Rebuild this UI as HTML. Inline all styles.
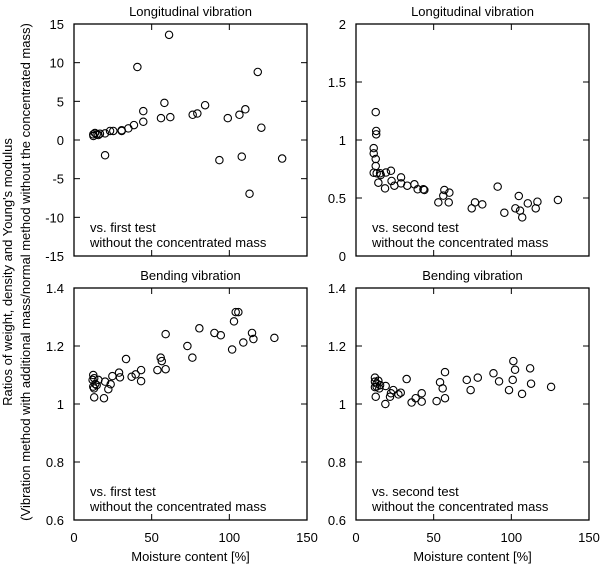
<!DOCTYPE html>
<html><head><meta charset="utf-8"><style>
body{margin:0;background:#fff}
svg{display:block;font-family:"Liberation Sans",sans-serif}
</style></head><body>
<svg id="c" width="600" height="568" viewBox="0 0 600 568">
<text transform="translate(12,272) rotate(-90)" text-anchor="middle" font-size="13">Ratios of weight, density and Young's modulus</text>
<text transform="translate(30,272) rotate(-90)" text-anchor="middle" font-size="13">(Vibration method with additional mass/normal method without the concentrated mass)</text>
</svg>
<script>
const xTicks=[0,50,100,150];
const p1Ticks=[-15,-10,-5,0,5,10,15];
const p2Ticks=[0,0.5,1,1.5,2];
const p3Ticks=[0.6,0.8,1,1.2,1.4];
const p1X=[12.4,12.5,13.5,14.6,15.7,16.7,20,20,23.2,25.3,30.7,30.7,35,38.6,40.8,44.6,44.6,56,58.2,61.2,62,76.4,79.4,84.4,93.6,99,106.5,108,110.3,113,118.3,120.6,134];
const p1Y=[0.73,0.52,0.9,0.73,0.64,0.81,0.86,-1.97,1.17,1.17,1.26,1.17,1.5,1.93,9.44,2.36,3.73,2.83,4.8,13.6,2.96,3.26,3.43,4.5,-2.6,2.83,3.26,-2.15,3.97,-6.95,8.8,1.59,-2.4];
const p2X=[12.7,13,13,11.4,11.4,12.7,12.7,11.4,13.3,15.5,14.4,15.9,19.3,18.7,22.5,22.9,24.7,29,29,33,37.6,39.7,43.4,44,53,56.9,56.2,59.7,60.1,74.5,76.6,81.3,91.2,95.5,102.6,104.8,105.6,107,110.6,115.7,116.8,130];
const p2Y=[1.24,1.078,1.049,0.93,0.885,0.836,0.776,0.718,0.713,0.713,0.632,0.698,0.72,0.583,0.735,0.647,0.606,0.678,0.626,0.606,0.618,0.575,0.575,0.569,0.462,0.569,0.52,0.462,0.546,0.411,0.462,0.445,0.598,0.373,0.411,0.517,0.391,0.333,0.454,0.411,0.468,0.483];
const p3X=[12.4,12,13,12.9,12.4,13.7,14.6,15.7,13,20,19.3,22.1,23.6,24.7,29,29.6,33.5,37.1,39.7,43.2,43.2,53.7,55.8,56.5,59,59,73,76.2,80.7,90.4,94.5,101.8,103,104.1,105.8,109,114.6,115.5,129];
const p3Y=[1.10,1.083,1.089,1.054,1.06,1.069,1.065,1.083,1.023,1.077,1.020,1.051,1.068,1.096,1.108,1.092,1.155,1.094,1.102,1.117,1.079,1.117,1.16,1.148,1.12,1.241,1.2,1.16,1.261,1.245,1.237,1.188,1.285,1.317,1.317,1.212,1.245,1.224,1.228];
const p4X=[12.2,12.2,13.3,13.3,12.2,14.4,15.5,15,12.7,19.1,18.9,21.9,22.5,24,27.3,28.8,32.6,35.8,38.4,42.3,42.3,51.9,54.1,55.8,57.3,57.3,71.3,73.8,78.4,88.5,92.1,98.5,100.9,101.3,102.4,106.9,112.1,112.7,125.6];
const p4Y=[1.091,1.077,1.071,1.06,1.058,1.08,1.065,1.054,1.025,1.062,1.0,1.025,1.037,1.048,1.033,1.039,1.086,1.005,1.02,1.037,1.008,1.01,1.075,1.054,1.02,1.11,1.083,1.048,1.091,1.106,1.078,1.048,1.083,1.148,1.118,1.035,1.123,1.07,1.059];
const NS='http://www.w3.org/2000/svg';
const svg=document.getElementById('c');
function mk(t,a,txt){const e=document.createElementNS(NS,t);for(const k in a)e.setAttribute(k,a[k]);if(txt!==undefined)e.textContent=txt;svg.appendChild(e);return e;}
function panel(id,L,T,W,H,yTicks,ymin,ymax,xs,ys,title,n1,n2,showX){
  const sx=v=>L+v/150*W, sy=v=>T+H-(v-ymin)/(ymax-ymin)*H;
  const r=mk('rect',{x:L,y:T,width:W,height:H,fill:'none',stroke:'#000','stroke-width':1.3});
  
  
  const t=mk('text',{x:L+W/2,y:T-8,'text-anchor':'middle','font-size':13},title);
  
  
  xTicks.forEach(v=>{const x=sx(v);
    mk('line',{x1:x,x2:x,y1:T+H,y2:T+H-6,stroke:'#000'});mk('line',{x1:x,x2:x,y1:T,y2:T+6,stroke:'#000'});
    if(showX){const l=mk('text',{x:x,y:T+H+22,'text-anchor':'middle','font-size':13},String(v));
      
      }
  });
  yTicks.forEach(v=>{const y=sy(v);
    mk('line',{x1:L,x2:L+6,y1:y,y2:y,stroke:'#000'});mk('line',{x1:L+W,x2:L+W-6,y1:y,y2:y,stroke:'#000'});
    const l=mk('text',{x:L-10,y:y+5,'text-anchor':'end','font-size':13},String(v));
    
    
  });
  xs.forEach((v,i)=>{const c=mk('circle',{cx:sx(v),cy:sy(ys[i]),r:3.7,fill:'none',stroke:'#000','stroke-width':1.1});
    
    });
  const a=mk('text',{x:L+16,y:T+H-24,'font-size':13},n1);
  
  
  const b=mk('text',{x:L+16,y:T+H-9,'font-size':13},n2);
  
  
  if(showX){const xt=mk('text',{x:L+W/2,y:T+H+41,'text-anchor':'middle','font-size':13},'Moisture content [%]');
    
    }
}
panel('longitudinal-first',74,24,233,232,p1Ticks,-15,15,p1X,p1Y,'Longitudinal vibration','vs. first test','without the concentrated mass',false);
panel('longitudinal-second',356,24,233,232,p2Ticks,0,2,p2X,p2Y,'Longitudinal vibration','vs. second test','without the concentrated mass',false);
panel('bending-first',74,288,233,232,p3Ticks,0.6,1.4,p3X,p3Y,'Bending vibration','vs. first test','without the concentrated mass',true);
panel('bending-second',356,288,233,232,p3Ticks,0.6,1.4,p4X,p4Y,'Bending vibration','vs. second test','without the concentrated mass',true);
</script>
</body></html>
